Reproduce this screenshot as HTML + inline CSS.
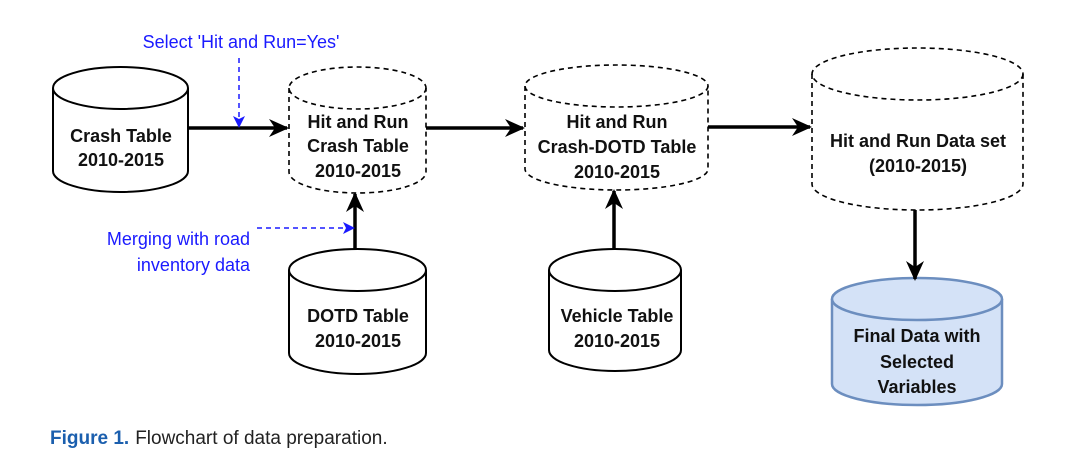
<!DOCTYPE html>
<html><head><meta charset="utf-8"><style>
html,body{margin:0;padding:0;background:#fff;}
svg{display:block;}
text{font-family:"Liberation Sans",sans-serif;}
</style></head><body>
<svg width="1078" height="472" viewBox="0 0 1078 472" xmlns="http://www.w3.org/2000/svg">
<defs>
<marker id="ah" markerWidth="20" markerHeight="18" refX="18" refY="9" orient="auto" markerUnits="userSpaceOnUse" viewBox="0 0 20 18">
<path d="M0,0 L20,9 L0,18 L6,9 Z" fill="#000"/></marker>
<marker id="ahb" markerWidth="12" markerHeight="12" refX="11" refY="6" orient="auto" markerUnits="userSpaceOnUse" viewBox="0 0 12 12">
<path d="M0,0 L12,6 L0,12 L3,6 Z" fill="#1a1aff"/></marker>
</defs>
<g stroke="#000" stroke-width="2" fill="#fff">
<path d="M53,88 L53,171 A67.5,21 0 0 0 188,171 L188,88"/>
<ellipse cx="120.5" cy="88" rx="67.5" ry="21"/>
<path d="M289,270 L289,353 A68.5,21 0 0 0 426,353 L426,270"/>
<ellipse cx="357.5" cy="270" rx="68.5" ry="21"/>
<path d="M549,270 L549,350 A66,21 0 0 0 681,350 L681,270"/>
<ellipse cx="615" cy="270" rx="66" ry="21"/>
</g>
<g stroke="#000" stroke-width="1.6" fill="none" stroke-dasharray="5,4">
<path d="M289,88 L289,172 A68.5,21 0 0 0 426,172 L426,88"/>
<ellipse cx="357.5" cy="88" rx="68.5" ry="21"/>
<path d="M525,86 L525,169 A91.5,21 0 0 0 708,169 L708,86"/>
<ellipse cx="616.5" cy="86" rx="91.5" ry="21"/>
<path d="M812,74 L812,184 A105.5,26 0 0 0 1023,184 L1023,74"/>
<ellipse cx="917.5" cy="74" rx="105.5" ry="26"/>
</g>
<g stroke="#6c8ebf" stroke-width="2.5" fill="#d4e2f7">
<path d="M832,299 L832,384 A85,21 0 0 0 1002,384 L1002,299"/>
<ellipse cx="917" cy="299" rx="85" ry="21"/>
</g>
<g stroke="#000" stroke-width="3.5" fill="none">
<line x1="188" y1="128" x2="287" y2="128" marker-end="url(#ah)"/>
<line x1="426" y1="128" x2="523" y2="128" marker-end="url(#ah)"/>
<line x1="708" y1="127" x2="810" y2="127" marker-end="url(#ah)"/>
<line x1="355" y1="249" x2="355" y2="194" marker-end="url(#ah)"/>
<line x1="614" y1="249" x2="614" y2="191" marker-end="url(#ah)"/>
<line x1="915" y1="210" x2="915" y2="279" marker-end="url(#ah)"/>
</g>
<g stroke="#1a1aff" stroke-width="1.5" fill="none" stroke-dasharray="5,4">
<line x1="239" y1="58" x2="239" y2="127" marker-end="url(#ahb)"/>
<line x1="257" y1="228" x2="354" y2="228" marker-end="url(#ahb)"/>
</g>
<g font-weight="bold" font-size="18" fill="#111" text-anchor="middle">
<text x="121" y="142">Crash Table</text>
<text x="121" y="166">2010-2015</text>
<text x="358" y="128">Hit and Run</text>
<text x="358" y="152">Crash Table</text>
<text x="358" y="177">2010-2015</text>
<text x="617" y="128">Hit and Run</text>
<text x="617" y="153">Crash-DOTD Table</text>
<text x="617" y="178">2010-2015</text>
<text x="918" y="147">Hit and Run Data set</text>
<text x="918" y="172">(2010-2015)</text>
<text x="358" y="322">DOTD Table</text>
<text x="358" y="347">2010-2015</text>
<text x="617" y="322">Vehicle Table</text>
<text x="617" y="347">2010-2015</text>
<text x="917" y="342">Final Data with</text>
<text x="917" y="368">Selected</text>
<text x="917" y="393">Variables</text>
</g>
<g font-size="18" fill="#1a1aff">
<text x="241" y="48" text-anchor="middle">Select 'Hit and Run=Yes'</text>
<text x="250" y="245" text-anchor="end">Merging with road</text>
<text x="250" y="271" text-anchor="end">inventory data</text>
</g>
<text x="50" y="444" font-size="19"><tspan fill="#1b5fae" font-weight="bold">Figure 1.</tspan><tspan fill="#222" dx="6">Flowchart of data preparation.</tspan></text>
</svg>
</body></html>
